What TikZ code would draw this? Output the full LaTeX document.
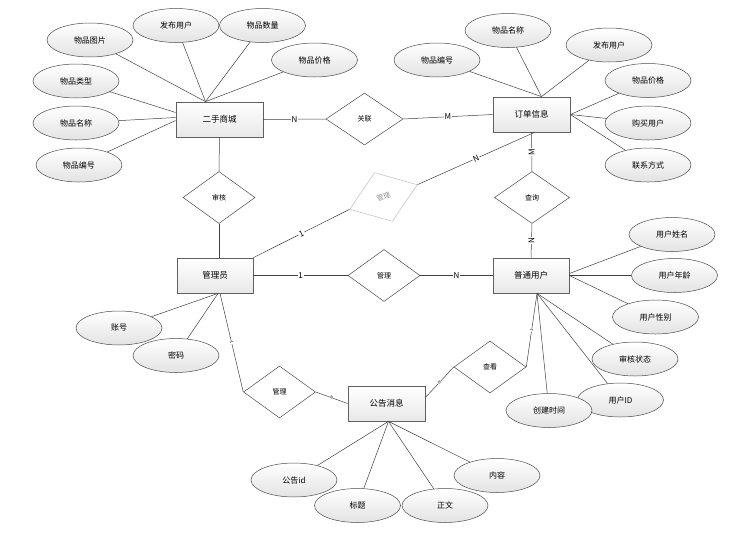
\documentclass[tikz,border=0pt]{standalone}
\usepackage{fontspec}
\setmainfont{Noto Sans CJK SC}
\usepackage{tikz}
\usetikzlibrary{shapes.geometric}

\begin{document}
\begin{tikzpicture}[
  x=1pt, y=-1pt,
  entity/.style={rectangle, draw=gray!75!black, line width=0.8pt, top color=white, bottom color=gray!18,
    minimum width=77pt, minimum height=35pt, inner sep=0pt, font=\fontsize{8.5}{10}\selectfont},
  attr/.style={ellipse, draw=black!70, line width=0.5pt, top color=white, bottom color=gray!22,
    minimum width=86pt, minimum height=34pt, inner sep=0pt, font=\fontsize{8}{10}\selectfont},
  rel/.style={diamond, draw=black!70, line width=0.5pt, fill=white, aspect=1.38,
    minimum width=72pt, minimum height=52pt, inner sep=0pt, font=\fontsize{7}{8}\selectfont},
  link/.style={draw=black!75, line width=0.5pt},
  card/.style={fill=white, inner sep=0.8pt, font=\fontsize{8}{9}\selectfont},
  tinycard/.style={fill=white, inner sep=0.2pt, sloped, font=\fontsize{4}{4}\selectfont}
]
\useasboundingbox (0,0) rectangle (748,539);

% Entities
\node[entity, minimum width=87pt] (shop) at (219.5,119.5) {二手商城};
\node[entity] (order) at (531.5,114.5) {订单信息};
\node[entity, minimum width=76pt] (admin) at (215,275.5) {管理员};
\node[entity, minimum width=76pt] (user) at (531,275.5) {普通用户};
\node[entity] (notice) at (386.5,403.5) {公告消息};

% Relations
\node[rel, minimum width=77pt] (relate) at (364.5,119) {关联};
\node[rel] (audit) at (219,197.5) {审核};
\node[rel, minimum width=75pt] (query) at (532,197.5) {查询};
\node[rel] (manage) at (384,275.5) {管理};
\node[rel, rotate=20, draw=gray!50, text=gray!85] (manageord) at (383.5,197) {管理};
\node[rel] (managenote) at (279.5,392) {管理};
\node[rel] (view) at (490,367) {查看};

% Attributes of shop
\node[attr] (shpic) at (90,40) {物品图片};
\node[attr] (shuser) at (176,25.5) {发布用户};
\node[attr] (shnum) at (262.5,25.5) {物品数量};
\node[attr] (shprice) at (314.5,60) {物品价格};
\node[attr] (shtype) at (76,81) {物品类型};
\node[attr] (shname) at (76,123) {物品名称};
\node[attr] (shcode) at (79,165) {物品编号};

% Attributes of order
\node[attr] (orcode) at (437,60) {物品编号};
\node[attr] (orname) at (508,30.5) {物品名称};
\node[attr] (oruser) at (609,45) {发布用户};
\node[attr] (orprice) at (648,80.5) {物品价格};
\node[attr] (orbuyer) at (648,123) {购买用户};
\node[attr] (orphone) at (648,165) {联系方式};

% Attributes of user
\node[attr] (usname) at (672,234.5) {用户姓名};
\node[attr] (usage) at (674.5,275.5) {用户年龄};
\node[attr] (ussex) at (655.5,317) {用户性别};
\node[attr] (usstate) at (635,359) {审核状态};
\node[attr] (usid) at (620.5,400) {用户ID};
\node[attr] (ustime) at (549,410.5) {创建时间};

% Attributes of admin
\node[attr] (adacc) at (119,328) {账号};
\node[attr] (adpwd) at (176,355.5) {密码};

% Attributes of notice
\node[attr] (ntid) at (294,480) {公告id};
\node[attr] (nttitle) at (357.5,505.5) {标题};
\node[attr] (nttext) at (445,505.5) {正文};
\node[attr] (ntcont) at (497,475.5) {内容};

% Attribute lines
\draw[link] (shpic) -- ([xshift=-14pt]shop.north);
\draw[link] (shuser) -- ([xshift=-14pt]shop.north);
\draw[link] (shnum) -- ([xshift=-14pt]shop.north);
\draw[link] (shprice) -- ([xshift=-14pt]shop.north);
\draw[link] (shtype) -- ([yshift=7pt]shop.west);
\draw[link] (shname) -- ([yshift=2pt]shop.west);
\draw[link] (shcode) -- ([yshift=-1pt]shop.west);
\draw[link] (orcode) -- ([xshift=10pt]order.north);
\draw[link] (orname) -- ([xshift=10pt]order.north);
\draw[link] (oruser) -- ([xshift=10pt]order.north);
\draw[link] (orprice) -- (order.east);
\draw[link] (orbuyer) -- (order.east);
\draw[link] (orphone) -- (order.east);
\draw[link] (usname) -- ([yshift=2pt]user.east);
\draw[link] (usage) -- (user.east);
\draw[link] (ussex) -- (user.east);
\draw[link] (usstate) -- ([xshift=6pt]user.south);
\draw[link] (usid) -- ([xshift=6pt]user.south);
\draw[link] (ustime) -- ([xshift=6pt]user.south);
\draw[link] (adacc) -- ([xshift=3pt]admin.south);
\draw[link] (adpwd) -- ([xshift=3pt]admin.south);
\draw[link] (ntid) -- ([xshift=2pt]notice.south);
\draw[link] (nttitle) -- ([xshift=2pt]notice.south);
\draw[link] (nttext) -- ([xshift=2pt]notice.south);
\draw[link] (ntcont) -- ([xshift=2pt]notice.south);

% Relation lines
\draw[link] (shop.south) -- (audit.north);
\draw[link] (audit.south) -- ([xshift=4pt]admin.north);
\draw[link] (shop.east) -- node[card] {N} (relate.west);
\draw[link] (relate.east) -- node[card] {M} (order.west);
\draw[link] (query.north) -- node[card, rotate=90] {M} (order.south);
\draw[link] (query.south) -- node[card, rotate=90] {N} (user.north);
\draw[link] (admin.east) -- node[card] {1} (manage.west);
\draw[link] (manage.east) -- node[card] {N} (user.west);
\draw[link] (admin.north east) -- node[card, sloped] {1} (manageord.west);
\draw[link] (manageord.east) -- node[card, sloped] {N} ([xshift=3pt]order.south);
\draw[link] ([xshift=5pt]admin.south) -- node[tinycard] {1} (managenote.west);
\draw[link] (managenote.east) -- node[tinycard] {N} (notice.west);
\draw[link] ([yshift=6pt]notice.east) -- node[tinycard] {N} (view.west);
\draw[link] (view.east) -- node[tinycard] {1} ([xshift=6pt]user.south);

\end{tikzpicture}
\end{document}
